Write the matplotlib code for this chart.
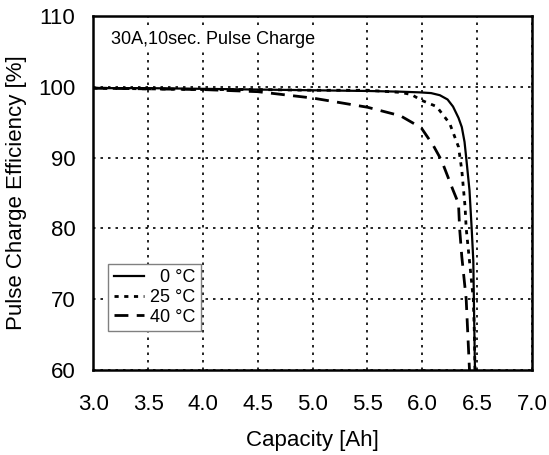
import matplotlib
matplotlib.use("Agg")
import matplotlib.pyplot as plt

plt.rcParams['font.family'] = ['Liberation Sans', 'DejaVu Sans']

cap_0 = [3.0, 3.5, 4.0, 4.5, 5.0, 5.5, 5.8, 5.98, 6.08, 6.16, 6.23, 6.28, 6.33, 6.36, 6.385, 6.40, 6.43, 6.45, 6.465, 6.47, 6.475, 6.48]
eff_0 = [99.8, 99.8, 99.7, 99.6, 99.5, 99.4, 99.3, 99.2, 99.1, 98.8, 98.2, 97.2, 95.6, 94.3, 92.2, 90.0, 85.4, 80.0, 75.4, 70.0, 65.0, 60.0]

cap_25 = [3.0, 3.5, 4.0, 4.5, 5.0, 5.5, 5.8, 5.9, 5.99, 6.13, 6.25, 6.33, 6.36, 6.39, 6.40, 6.43, 6.465, 6.475, 6.48]
eff_25 = [99.8, 99.7, 99.6, 99.6, 99.5, 99.5, 99.2, 98.9, 98.1, 97.2, 94.8, 91.5, 88.2, 83.0, 80.0, 75.4, 70.0, 65.0, 60.0]

cap_40 = [3.0, 3.5, 4.0, 4.5, 5.0, 5.5, 5.8, 5.99, 6.10, 6.175, 6.28, 6.33, 6.34, 6.36, 6.40, 6.43]
eff_40 = [99.8, 99.7, 99.6, 99.3, 98.4, 97.1, 95.9, 94.2, 91.7, 89.6, 85.4, 83.5, 80.0, 76.0, 70.0, 60.0]

xticks = [3.0, 3.5, 4.0, 4.5, 5.0, 5.5, 6.0, 6.5, 7.0]
yticks = [60, 70, 80, 90, 100, 110]

fig = plt.figure(figsize=(5.49, 4.55), dpi=100)
ax = fig.add_axes([0.170, 0.187, 0.799, 0.778])

ax.plot(cap_0, eff_0, color='black', lw=1.6, linestyle='-', label='  0 °C')
ax.plot(cap_25, eff_25, color='black', lw=2.0, linestyle=(0, (1.5, 2.0)), label='25 °C')
ax.plot(cap_40, eff_40, color='black', lw=2.0, linestyle=(0, (5, 3)), label='40 °C')

ax.set_xlim(3.0, 7.0)
ax.set_ylim(60, 110)
ax.set_xticks(xticks)
ax.set_xticklabels([f"{v:.1f}" for v in xticks])
ax.set_yticks(yticks)
ax.tick_params(axis='x', length=0, labelsize=16, pad=17)
ax.tick_params(axis='y', length=0, labelsize=16, pad=13)
ax.grid(True, color='black', linestyle=(0, (1.5, 3)), lw=1.2)
for s in ax.spines.values():
    s.set_linewidth(1.8)

ax.set_xlabel('Capacity [Ah]', fontsize=16, labelpad=11)
ax.set_ylabel('Pulse Charge Efficiency [%]', fontsize=16, labelpad=8)

ax.text(3.16, 106.6, '30A,10sec. Pulse Charge', fontsize=13, va='center', ha='left',
        bbox=dict(facecolor='white', edgecolor='none', pad=1.5))

leg = ax.legend(loc='lower left', bbox_to_anchor=(0.034, 0.11), fontsize=13,
                frameon=True, fancybox=False, framealpha=1, edgecolor='gray',
                handlelength=1.7, handletextpad=0.3, borderpad=0.3, labelspacing=0.15,
                borderaxespad=0)
leg.get_frame().set_linewidth(1.0)

fig.savefig('out.png', dpi=100)
